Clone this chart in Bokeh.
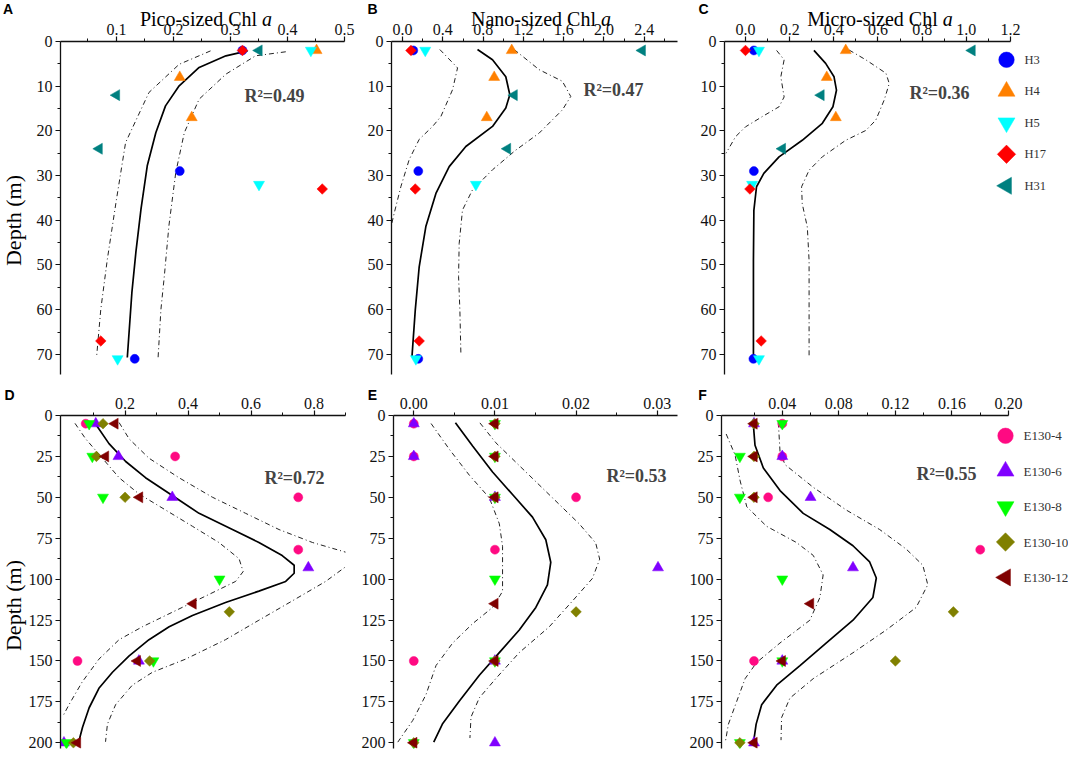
import math
from bokeh.plotting import figure
from bokeh.models import (Range1d, FixedTicker, Label, PrintfTickFormatter, GridBox)
from bokeh.layouts import column, row
from bokeh.embed import file_html
from bokeh.resources import INLINE

# ---------------- data: top row (stations H3..H31), depth in m ----------------
top_names = ["H3", "H4", "H5", "H17", "H31"]
top_colors = ["#0000FF", "#FF8000", "#00FFFF", "#FF0000", "#008080"]
# diamond = square turned 45 degrees, left triangle = triangle turned 90 degrees
top_markers = ["circle", "triangle", "inverted_triangle", "square", "triangle"]
top_angles = [0, 0, 0, math.pi / 4, math.pi / 2]

h3_depth = [2, 29, 71]
h4_depth = [2, 8, 17]
h5_depth = [2, 32, 71]
h17_depth = [2, 33, 67]
h31_depth = [2, 12, 24]

pico_h3 = [0.321, 0.211, 0.132]
pico_h4 = [0.451, 0.211, 0.232]
pico_h5 = [0.441, 0.350, 0.102]
pico_h17 = [0.321, 0.461, 0.0725]
pico_h31 = [0.350, 0.100, 0.0696]

nano_h3 = [0.106, 0.156, 0.156]
nano_h4 = [1.084, 0.91, 0.836]
nano_h5 = [0.225, 0.728, 0.132]
nano_h17 = [0.083, 0.126, 0.165]
nano_h31 = [2.38, 1.108, 1.042]

micro_h3 = [0.038, 0.038, 0.036]
micro_h4 = [0.454, 0.368, 0.409]
micro_h5 = [0.061, 0.030, 0.061]
micro_h17 = [0.0, 0.02, 0.071]
micro_h31 = [1.026, 0.342, 0.167]

# fitted profiles (solid) and confidence bands (dash-dot)
pico_fit_x = [0.330, 0.292, 0.245, 0.210, 0.186, 0.169, 0.154, 0.143, 0.134, 0.127, 0.119]
pico_fit_d = [2.1, 3.2, 5.8, 9.9, 14.4, 20.4, 27.8, 37.5, 47.2, 56.2, 70.7]
pico_lo_x = [0.265, 0.210, 0.157, 0.116, 0.100, 0.084, 0.0725, 0.065]
pico_lo_d = [2.1, 5.1, 11.4, 22.6, 35.3, 48.7, 59.9, 70.7]
pico_hi_x = [0.397, 0.344, 0.292, 0.245, 0.219, 0.204, 0.192, 0.184, 0.178, 0.173]
pico_hi_d = [2.3, 3.2, 7.3, 12.9, 20.4, 29.3, 41.2, 52.4, 59.9, 70.7]

nano_fit_x = [0.744, 0.893, 1.025, 1.065, 1.025, 0.893, 0.628, 0.463, 0.331, 0.231, 0.165, 0.126, 0.093]
nano_fit_d = [1.8, 4.1, 7.9, 11.9, 14.9, 19.0, 23.5, 28.0, 34.0, 41.4, 50.4, 60.1, 70.6]
nano_lo_x = [0.37, 0.546, 0.496, 0.38, 0.298, 0.165, 0.066, -0.016, -0.083, -0.106]
nano_lo_d = [1.8, 5.9, 10.8, 16.8, 19.0, 21.9, 26.4, 32.4, 38.4, 40.6]
nano_hi_x = [1.108, 1.356, 1.587, 1.67, 1.587, 1.356, 1.124, 0.893, 0.694, 0.595, 0.562, 0.556, 0.569, 0.579]
nano_hi_d = [1.8, 6.3, 8.9, 12.3, 15.3, 20.5, 24.3, 28.7, 33.2, 37.7, 45.2, 52.6, 60.1, 69.8]

micro_fit_x = [0.31, 0.363, 0.401, 0.412, 0.396, 0.348, 0.257, 0.152, 0.083, 0.05, 0.038, 0.036, 0.036]
micro_fit_d = [2.0, 4.9, 7.9, 10.9, 14.6, 18.3, 22.1, 25.8, 29.5, 32.5, 37.8, 49.0, 70.6]
micro_lo_x = [0.141, 0.175, 0.16, 0.175, 0.152, 0.076, 0.0, -0.045, -0.088]
micro_lo_d = [2.0, 4.1, 7.9, 12.4, 14.6, 16.8, 19.1, 21.3, 25.0]
micro_hi_x = [0.469, 0.545, 0.636, 0.651, 0.628, 0.590, 0.545, 0.454, 0.348, 0.288, 0.254, 0.257, 0.28, 0.288, 0.288]
micro_hi_d = [1.9, 4.1, 7.1, 9.4, 13.1, 17.6, 19.9, 22.1, 25.8, 28.8, 32.5, 36.3, 41.5, 49.0, 70.3]

# ---------------- data: bottom row (E130 stations) ----------------
bot_names = ["E130-4", "E130-6", "E130-8", "E130-10", "E130-12"]
bot_colors = ["#FF0A82", "#8000FF", "#00FF00", "#808000", "#800000"]
bot_markers = ["circle", "triangle", "inverted_triangle", "square", "triangle"]
bot_angles = [0, 0, 0, math.pi / 4, math.pi / 2]

e4_depth = [5, 25, 50, 82, 150]
e6_depth = [5, 25, 50, 93, 150, 200]
e8_depth = [5, 25, 50, 100, 150, 200]
e10_depth = [5, 25, 50, 120, 150, 200]
e12_depth = [5, 25, 50, 115, 150, 200]

picoE_e4 = [0.075, 0.359, 0.75, 0.75, 0.049]
picoE_e6 = [0.107, 0.179, 0.35, 0.782, 0.244, 0.006]
picoE_e8 = [0.086, 0.096, 0.13, 0.5, 0.29, 0.014]
picoE_e10 = [0.13, 0.109, 0.2, 0.531, 0.278, 0.036]
picoE_e12 = [0.168, 0.138, 0.246, 0.416, 0.239, 0.049]

nanoE_e4 = [0.0, 0.0, 0.02, 0.01, 0.0]
nanoE_e6 = [0.0, 0.0, 0.01, 0.0301, 0.01, 0.01]
nanoE_e8 = [0.01, 0.01, 0.01, 0.01, 0.01, 0.0]
nanoE_e10 = [0.01, 0.01, 0.01, 0.02, 0.01, 0.0]
nanoE_e12 = [0.01, 0.01, 0.01, 0.01, 0.01, 0.0]

microE_e4 = [0.04, 0.04, 0.03, 0.18, 0.02]
microE_e6 = [0.02, 0.04, 0.06, 0.09, 0.04, 0.02]
microE_e8 = [0.04, 0.01, 0.01, 0.04, 0.04, 0.01]
microE_e10 = [0.02, 0.02, 0.02, 0.161, 0.12, 0.01]
microE_e12 = [0.02, 0.02, 0.02, 0.06, 0.04, 0.02]

d_fit_x = [0.109, 0.149, 0.202, 0.265, 0.35, 0.435, 0.541, 0.625, 0.699, 0.737, 0.737, 0.71, 0.625, 0.519, 0.414, 0.34, 0.276, 0.213, 0.16, 0.117, 0.086, 0.065, 0.052]
d_fit_d = [5.9, 17.2, 28.1, 38.0, 48.9, 59.8, 69.7, 77.6, 85.6, 91.5, 96.4, 101.4, 107.3, 114.3, 122.2, 129.1, 137.0, 146.9, 156.9, 166.7, 178.6, 190.5, 200.0]
d_lo_x = [0.041, 0.075, 0.128, 0.181, 0.244, 0.329, 0.414, 0.498, 0.562, 0.575, 0.551, 0.467, 0.361, 0.255, 0.181, 0.117, 0.064, 0.022, 0.003]
d_lo_d = [4.8, 14.3, 26.1, 38.0, 47.9, 57.8, 67.7, 77.6, 87.5, 95.4, 101.4, 109.3, 119.2, 129.1, 137.0, 148.9, 162.8, 176.7, 183.6]
d_hi_x = [0.181, 0.213, 0.276, 0.371, 0.477, 0.583, 0.689, 0.795, 0.9, 0.94, 0.9, 0.837, 0.731, 0.625, 0.519, 0.392, 0.287, 0.223, 0.17, 0.144, 0.138]
d_hi_d = [4.3, 14.3, 26.1, 38.0, 49.9, 59.8, 69.7, 77.6, 83.5, 87.5, 92.5, 101.4, 113.3, 125.1, 137.0, 148.9, 156.9, 164.8, 176.7, 188.6, 199.4]

e_fit_x = [0.00513, 0.00725, 0.00971, 0.01217, 0.01463, 0.01627, 0.01688, 0.01647, 0.01504, 0.0130, 0.01054, 0.00808, 0.00562, 0.00357, 0.00246]
e_fit_d = [4.5, 18.7, 34.5, 48.3, 62.1, 75.9, 89.7, 103.5, 117.3, 131.1, 144.9, 158.7, 174.5, 188.2, 199.6]
e_lo_x = [0.00213, 0.00439, 0.00685, 0.00931, 0.01054, 0.01094, 0.01094, 0.01094, 0.00971, 0.00725, 0.0048, 0.00274, 0.00151, -0.00012, -0.00197]
e_lo_d = [4.9, 20.7, 36.5, 50.3, 66.1, 79.9, 93.7, 107.5, 117.3, 127.2, 139.0, 152.8, 170.5, 186.3, 199.6]
e_hi_x = [0.00815, 0.01012, 0.01381, 0.01709, 0.02037, 0.02242, 0.02291, 0.02201, 0.01955, 0.01668, 0.0130, 0.01012, 0.00808, 0.00705, 0.00692]
e_hi_d = [4.5, 16.7, 34.5, 50.3, 66.1, 77.9, 87.8, 99.6, 113.4, 129.2, 144.9, 160.7, 172.5, 184.3, 197.1]

f_fit_x = [0.0196, 0.0207, 0.0266, 0.0384, 0.0548, 0.0736, 0.09, 0.1018, 0.1065, 0.1041, 0.09, 0.0712, 0.0525, 0.036, 0.0254, 0.0215, 0.0196]
f_fit_d = [6.3, 18.2, 32.1, 45.9, 59.8, 69.7, 79.6, 89.5, 99.3, 111.2, 125.1, 139.0, 152.8, 164.8, 176.7, 188.6, 200.0]
f_lo_x = [0.0003, 0.0066, 0.0102, 0.0149, 0.0289, 0.05, 0.0619, 0.0689, 0.0666, 0.0595, 0.0384, 0.0219, 0.0137, 0.0078, 0.0019, -0.0004]
f_lo_d = [11.3, 24.1, 40.0, 55.8, 67.7, 77.6, 85.5, 97.4, 111.2, 125.1, 139.0, 150.9, 160.8, 174.6, 188.6, 200.0]
f_hi_x = [0.0372, 0.0384, 0.0419, 0.0619, 0.0853, 0.1089, 0.1276, 0.1394, 0.1429, 0.1347, 0.1135, 0.09, 0.0619, 0.0454, 0.0395, 0.0391]
f_hi_d = [4.3, 22.1, 30.0, 43.9, 57.8, 69.7, 81.6, 91.5, 103.4, 117.3, 131.1, 145.0, 160.8, 172.7, 184.6, 198.4]

r2_labels = ["R\u00b2=0.49", "R\u00b2=0.47", "R\u00b2=0.36", "R\u00b2=0.72", "R\u00b2=0.53", "R\u00b2=0.55"]
panel_letters = ["A", "B", "C", "D", "E", "F"]
titles = ["Pico-sized Chl", "Nano-sized Chl", "Micro-sized Chl"]
title_italic = "a"
y_title = "Depth (m)"

# ticks
top_y_ticks = [0, 10, 20, 30, 40, 50, 60, 70]
top_y_minor = [5, 15, 25, 35, 45, 55, 65]
bot_y_ticks = [0, 25, 50, 75, 100, 125, 150, 175, 200]
bot_y_minor = [12.5, 37.5, 62.5, 87.5, 112.5, 137.5, 162.5, 187.5]

SERIF = "Liberation Serif"
SANS = "Liberation Sans"
PAGE = 8  # body margin
DASH = "5 3 1 3"


def make_fig(w, h, bl, br, bt, bb, xr, yr, xt, xm, yt, ym, xfmt):
    p = figure(width=w, height=h, x_range=Range1d(xr[0], xr[1]),
               y_range=Range1d(yr[1], yr[0]), x_axis_location="above",
               output_backend="svg", toolbar_location=None,
               min_border_left=bl, min_border_right=br,
               min_border_top=bt, min_border_bottom=bb)
    p.xgrid.visible = False
    p.ygrid.visible = False
    p.outline_line_color = None
    p.background_fill_color = "white"
    p.border_fill_color = "white"
    p.xaxis.ticker = FixedTicker(ticks=xt, minor_ticks=xm)
    p.yaxis.ticker = FixedTicker(ticks=yt, minor_ticks=ym)
    p.xaxis.formatter = PrintfTickFormatter(format=xfmt)
    p.yaxis.formatter = PrintfTickFormatter(format="%d")
    for ax in (p.xaxis, p.yaxis):
        ax.axis_line_width = 1.3
        ax.axis_line_color = "#111111"
        ax.major_tick_line_color = "#111111"
        ax.minor_tick_line_color = "#111111"
        ax.major_tick_line_width = 1.2
        ax.major_tick_out = 5
        ax.major_tick_in = 0
        ax.minor_tick_out = 3
        ax.minor_tick_in = 0
        ax.major_label_text_font = SERIF
        ax.major_label_text_font_size = "16px"
        ax.major_label_text_color = "#111111"
    p.xaxis.major_label_standoff = 2
    p.yaxis.major_label_standoff = 3
    return p


def add_curves(p, fx, fd, lx, ld, hx, hd):
    p.line(lx, ld, line_color="#222222", line_width=1, line_dash=DASH)
    p.line(hx, hd, line_color="#222222", line_width=1, line_dash=DASH)
    p.line(fx, fd, line_color="black", line_width=1.7)


MARKER_SIZE = {"circle": 9, "triangle": 11, "inverted_triangle": 11, "square": 7.5}
LEGEND_SIZE = {"circle": 15.5, "triangle": 17, "inverted_triangle": 17, "square": 13}


def add_points(p, xs_list, ds_list, colors, markers, angles):
    for xs, ds, c, m, a in zip(xs_list, ds_list, colors, markers, angles):
        p.scatter(xs, ds, marker=m, size=MARKER_SIZE[m], angle=a,
                  fill_color=c, line_color=c, line_width=0.5)


def frame_pos(ax, ay, frame):
    fl, fb = frame
    return ax - fl, fb - ay


# frames: (left, bottom) absolute page pixels
frA, frB, frC = (68, 382), (399, 382), (732, 382)
frD, frE, frF = (68, 756), (401, 756), (728, 756)

pA = make_fig(361, 382, 60, 17, 41, 8, (0.0018, 0.5), (0, 74.5),
              [0.1, 0.2, 0.3, 0.4, 0.5], [0.05, 0.15, 0.25, 0.35, 0.45],
              top_y_ticks, top_y_minor, "%.1f")
pB = make_fig(335, 382, 30, 19, 41, 8, (-0.11, 2.73), (0, 74.5),
              [0.0, 0.4, 0.8, 1.2, 1.6, 2.0, 2.4], [0.2, 0.6, 1.0, 1.4, 1.8, 2.2, 2.6],
              top_y_ticks, top_y_minor, "%.1f")
pC = make_fig(372, 382, 28, 58, 41, 8, (-0.095, 1.2), (0, 74.5),
              [0.0, 0.2, 0.4, 0.6, 0.8, 1.0, 1.2], [0.1, 0.3, 0.5, 0.7, 0.9, 1.1],
              top_y_ticks, top_y_minor, "%.1f")
pD = make_fig(357, 370, 60, 12, 33, 4, (-0.005, 0.9), (0, 203.5),
              [0.2, 0.4, 0.6, 0.8], [0.1, 0.3, 0.5, 0.7, 0.9],
              bot_y_ticks, bot_y_minor, "%.1f")
pE = make_fig(329, 370, 36, 9, 33, 4, (-0.0025, 0.0325), (0, 203.5),
              [0.0, 0.01, 0.02, 0.03], [0.005, 0.015, 0.025],
              bot_y_ticks, bot_y_minor, "%.2f")
pF = make_fig(382, 370, 34, 60, 33, 4, (-0.003, 0.2), (0, 203.5),
              [0.04, 0.08, 0.12, 0.16, 0.20], [0.02, 0.06, 0.10, 0.14, 0.18],
              bot_y_ticks, bot_y_minor, "%.2f")

add_curves(pA, pico_fit_x, pico_fit_d, pico_lo_x, pico_lo_d, pico_hi_x, pico_hi_d)
add_curves(pB, nano_fit_x, nano_fit_d, nano_lo_x, nano_lo_d, nano_hi_x, nano_hi_d)
add_curves(pC, micro_fit_x, micro_fit_d, micro_lo_x, micro_lo_d, micro_hi_x, micro_hi_d)
add_curves(pD, d_fit_x, d_fit_d, d_lo_x, d_lo_d, d_hi_x, d_hi_d)
add_curves(pE, e_fit_x, e_fit_d, e_lo_x, e_lo_d, e_hi_x, e_hi_d)
add_curves(pF, f_fit_x, f_fit_d, f_lo_x, f_lo_d, f_hi_x, f_hi_d)

top_depths = [h3_depth, h4_depth, h5_depth, h17_depth, h31_depth]
bot_depths = [e4_depth, e6_depth, e8_depth, e10_depth, e12_depth]

add_points(pA, [pico_h3, pico_h4, pico_h5, pico_h17, pico_h31], top_depths, top_colors, top_markers, top_angles)
add_points(pB, [nano_h3, nano_h4, nano_h5, nano_h17, nano_h31], top_depths, top_colors, top_markers, top_angles)
add_points(pC, [micro_h3, micro_h4, micro_h5, micro_h17, micro_h31], top_depths, top_colors, top_markers, top_angles)
add_points(pD, [picoE_e4, picoE_e6, picoE_e8, picoE_e10, picoE_e12], bot_depths, bot_colors, bot_markers, bot_angles)
add_points(pE, [nanoE_e4, nanoE_e6, nanoE_e8, nanoE_e10, nanoE_e12], bot_depths, bot_colors, bot_markers, bot_angles)
add_points(pF, [microE_e4, microE_e6, microE_e8, microE_e10, microE_e12], bot_depths, bot_colors, bot_markers, bot_angles)

# R^2 annotations (inside frames)
r2_pos = [(pA, frA, 282, 103), (pB, frB, 621, 97), (pC, frC, 947, 100),
          (pD, frD, 302, 485), (pE, frE, 644, 483), (pF, frF, 953, 481)]
for (p, fr, ax, ay), t in zip(r2_pos, r2_labels):
    vx, vy = frame_pos(ax, ay, fr)
    p.add_layout(Label(x=vx, y=vy, x_units="screen", y_units="screen", text=t,
                       text_font=SERIF, text_font_size="18px", text_font_style="bold",
                       text_align="center", text_baseline="middle"))

main = column(row(pA, pB, pC, spacing=0), row(pD, pE, pF, spacing=0), spacing=0)

# transparent overlay, in page pixels, for everything that lies outside the frames
ov = figure(width=1068, height=752, x_range=Range1d(0, 1068), y_range=Range1d(752, 0),
            x_axis_location=None, y_axis_location=None, toolbar_location=None,
            output_backend="svg", min_border=0)
ov.min_border_left = ov.min_border_right = ov.min_border_top = ov.min_border_bottom = 0
ov.outline_line_color = None
ov.background_fill_color = None
ov.border_fill_color = None
ov.grid.visible = False


def ov_text(ax, ay, text, font, size, style="normal", align="center", baseline="middle",
            angle=0.0, color="black"):
    ov.add_layout(Label(x=ax - PAGE, y=ay - PAGE, text=text, text_font=font,
                        text_font_size=size, text_font_style=style, text_align=align,
                        text_baseline=baseline, angle=angle, text_color=color))


# panel titles: upright part + italic "a", centred over each panel
TITLE_PX = 20
title_widths = [117.2, 125.0, 130.5]   # rendered width of the upright part at 20px
for t, cx, w in zip(titles, [213.5, 548.5, 887.5], title_widths):
    total = w + 5 + 10
    end_x = cx - total / 2 + w
    ov_text(end_x, 26, t, SERIF, f"{TITLE_PX}px", align="right", baseline="alphabetic")
    ov_text(end_x + 5, 26, title_italic, SERIF, f"{TITLE_PX}px", style="italic",
            align="left", baseline="alphabetic")

letter_pos = [(15.5, 8.5), (380, 8.5), (711, 8.5), (17, 394.5), (380, 394.5), (710, 394.5)]
for (ax, ay), L in zip(letter_pos, panel_letters):
    ov_text(ax, ay, L, SANS, "14px", style="bold", baseline="top")

ov_text(21, 228, y_title, SERIF, "22px", angle=math.pi / 2)
ov_text(21, 613, y_title, SERIF, "22px", angle=math.pi / 2)


# legends (key symbol + label), stacked downward from the first entry
def draw_legend(names, colors, markers, angles, key_x, first_y, pitch, text_x, font_px):
    ys = [first_y + i * pitch - PAGE for i in range(len(names))]
    for n, c, m, a, y in zip(names, colors, markers, angles, ys):
        ov.scatter([key_x - PAGE], [y], marker=m, size=LEGEND_SIZE[m], angle=a,
                   fill_color=c, line_color=c, line_width=0.5)
        ov.add_layout(Label(x=text_x - PAGE, y=y, text=n, text_font=SERIF,
                            text_font_size=f"{font_px}px", text_align="left",
                            text_baseline="middle", text_color="#333333"))


draw_legend(top_names, top_colors, top_markers, top_angles, 1014, 67.3, 31.5, 1032, 12.5)
draw_legend(bot_names, bot_colors, bot_markers, bot_angles, 1013, 443.3, 35.4, 1031, 13)

layout = GridBox(children=[(main, 0, 0), (ov, 0, 0)])
open("out.html", "w").write(file_html(layout, INLINE))
